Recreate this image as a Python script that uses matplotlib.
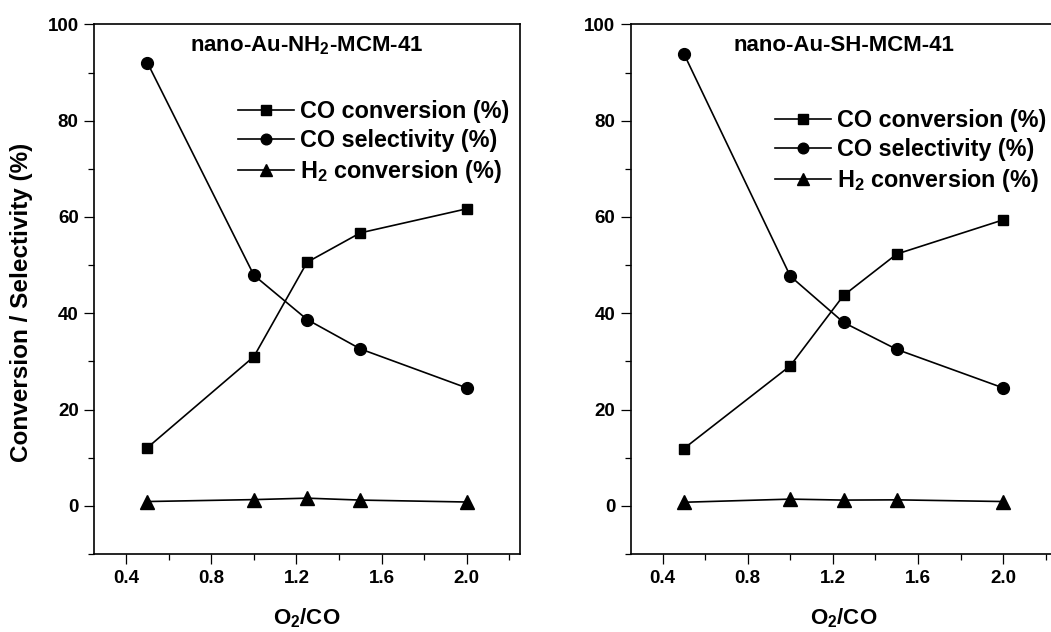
import matplotlib
matplotlib.use("Agg")
import matplotlib.pyplot as plt
from matplotlib.ticker import MultipleLocator

plt.rcParams['font.family'] = ['Liberation Sans', 'DejaVu Sans']
plt.rcParams['font.weight'] = 'bold'
plt.rcParams['mathtext.fontset'] = 'custom'
plt.rcParams['mathtext.rm'] = 'Liberation Sans:bold'
plt.rcParams['mathtext.bf'] = 'Liberation Sans:bold'
plt.rcParams['mathtext.it'] = 'Liberation Sans:bold'
plt.rcParams['mathtext.default'] = 'bf'

# O2/CO feed ratio
o2_co = [0.5, 1.0, 1.25, 1.5, 2.0]

# nano-Au-NH2-MCM-41
nh2_co_conv = [12.1, 31.0, 50.6, 56.7, 61.7]
nh2_co_sel = [92.0, 47.9, 38.7, 32.6, 24.5]
nh2_h2_conv = [0.9, 1.3, 1.6, 1.2, 0.8]

# nano-Au-SH-MCM-41
sh_co_conv = [11.9, 29.1, 43.7, 52.3, 59.4]
sh_co_sel = [93.9, 47.7, 38.1, 32.5, 24.5]
sh_h2_conv = [0.75, 1.4, 1.2, 1.25, 0.9]

titles = [r'nano-Au-NH$_2$-MCM-41', 'nano-Au-SH-MCM-41']
series_labels = ['CO conversion (%)', 'CO selectivity (%)', r'H$_2$ conversion (%)']
xticks = [0.4, 0.8, 1.2, 1.6, 2.0]

fig = plt.figure(figsize=(10.51, 6.32), dpi=100)
ax_l = fig.add_axes([0.0897, 0.1234, 0.405, 0.838])
ax_r = fig.add_axes([0.6001, 0.1234, 0.405, 0.838])

panels = [
    (ax_l, (nh2_co_conv, nh2_co_sel, nh2_h2_conv), titles[0], (0.31, 0.777)),
    (ax_r, (sh_co_conv, sh_co_sel, sh_h2_conv), titles[1], (0.312, 0.76)),
]

markers = ['s', 'o', '^']
msizes = [7.5, 8.5, 9.5]

for ax, data, title, leg_xy in panels:
    for vals, m, ms, lab in zip(data, markers, msizes, series_labels):
        ax.plot(o2_co, vals, color='black', lw=1.2, marker=m, ms=ms,
                mfc='black', mec='black', label=lab)
    ax.set_xlim(0.25, 2.25)
    ax.set_ylim(-10, 100)
    ax.set_xticks(xticks)
    ax.set_xticklabels([f'{t:.1f}' for t in xticks])
    ax.xaxis.set_minor_locator(MultipleLocator(0.2))
    ax.yaxis.set_major_locator(MultipleLocator(20))
    ax.yaxis.set_minor_locator(MultipleLocator(10))
    ax.tick_params(axis='both', which='major', direction='out', length=7.2,
                   width=0.9, labelsize=13.5, pad=4)
    ax.tick_params(axis='both', which='minor', direction='out', length=4,
                   width=0.9)
    ax.tick_params(top=False, right=False, which='both')
    for sp in ax.spines.values():
        sp.set_linewidth(1.2)
        sp.set_color('black')
    ax.text(0.5, 0.96, title, transform=ax.transAxes, ha='center', va='center',
            fontsize=16, fontweight='bold')
    ax.set_xlabel(r'O$_2$/CO', fontsize=16, fontweight='bold', labelpad=14)
    ax.legend(loc='center left', bbox_to_anchor=leg_xy, frameon=False,
              fontsize=16.8, handlelength=2.4, handletextpad=0.25,
              labelspacing=0.25, markerscale=0.9, borderpad=0)

ax_l.set_ylabel('Conversion / Selectivity (%)', fontsize=17.5, fontweight='bold')
ax_l.yaxis.set_label_coords(-0.145, 0.475)

fig.savefig('out.png', dpi=100)
